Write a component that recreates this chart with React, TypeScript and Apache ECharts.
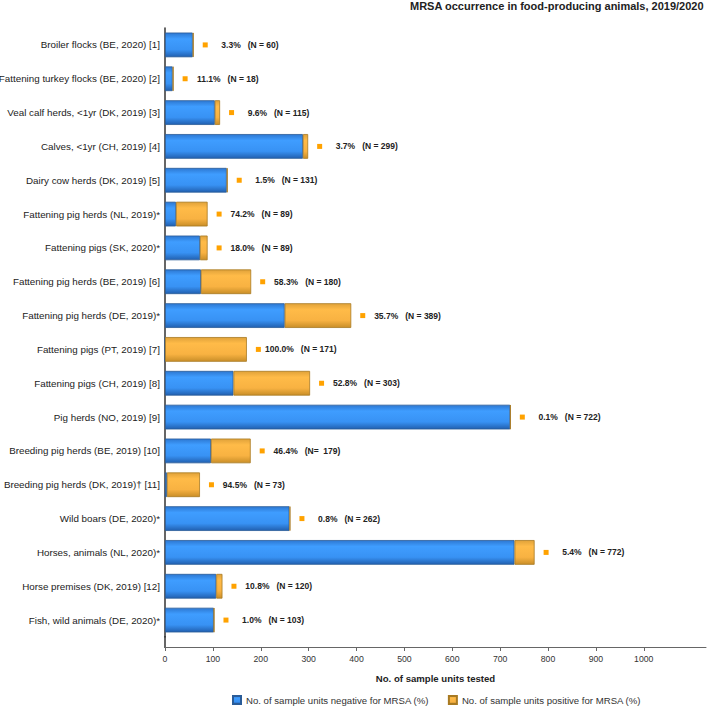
import React, { useEffect, useRef } from "react";
import * as echarts from "echarts";

const categories = [
  "Broiler flocks (BE, 2020) [1]",
  "Fattening turkey flocks (BE, 2020) [2]",
  "Veal calf herds, <1yr (DK, 2019) [3]",
  "Calves, <1yr (CH, 2019) [4]",
  "Dairy cow herds (DK, 2019) [5]",
  "Fattening pig herds (NL, 2019)*",
  "Fattening pigs (SK, 2020)*",
  "Fattening pig herds (BE, 2019) [6]",
  "Fattening pig herds (DE, 2019)*",
  "Fattening pigs (PT, 2019) [7]",
  "Fattening pigs (CH, 2019) [8]",
  "Pig herds (NO, 2019) [9]",
  "Breeding pig herds (BE, 2019) [10]",
  "Breeding pig herds (DK, 2019)\u2020 [11]",
  "Wild boars (DE, 2020)*",
  "Horses, animals (NL, 2020)*",
  "Horse premises (DK, 2019) [12]",
  "Fish, wild animals (DE, 2020)*",
];

const negativeUnits = [58, 16, 104, 288, 129, 23, 73, 75, 250, 0, 143, 721, 96, 4, 260, 730, 107, 102];
const positiveUnits = [2, 2, 11, 11, 2, 66, 16, 105, 139, 171, 160, 1, 83, 69, 2, 42, 13, 1];

const percentLabels = [
  "3.3%", "11.1%", "9.6%", "3.7%", "1.5%", "74.2%", "18.0%", "58.3%", "35.7%",
  "100.0%", "52.8%", "0.1%", "46.4%", "94.5%", "0.8%", "5.4%", "10.8%", "1.0%",
];
const totalLabels = [
  "(N = 60)", "(N = 18)", "(N = 115)", "(N = 299)", "(N = 131)", "(N = 89)", "(N = 89)",
  "(N = 180)", "(N = 389)", "(N = 171)", "(N = 303)", "(N = 722)", "(N=  179)", "(N = 73)",
  "(N = 262)", "(N = 772)", "(N = 120)", "(N = 103)",
];

const xTickValues = [0, 100, 200, 300, 400, 500, 600, 700, 800, 900, 1000];

const FONT = "'Liberation Sans', Arial, Helvetica, sans-serif";

const blueGradient = new echarts.graphic.LinearGradient(0, 0, 0, 1, [
  { offset: 0, color: "#2d78d2" },
  { offset: 0.25, color: "#3f9dff" },
  { offset: 0.7, color: "#3892f4" },
  { offset: 1, color: "#2160b0" },
]);
const orangeGradient = new echarts.graphic.LinearGradient(0, 0, 0, 1, [
  { offset: 0, color: "#e0a23a" },
  { offset: 0.25, color: "#ffbb48" },
  { offset: 0.7, color: "#f8b242" },
  { offset: 1, color: "#c98e28" },
]);

export default function App() {
  const ref = useRef<HTMLDivElement>(null);
  useEffect(() => {
    if (!ref.current) return;
    const chart = echarts.init(ref.current, null, { renderer: "svg" });
    chart.setOption({
      animation: false,
      textStyle: { fontFamily: FONT },
      title: {
        text: "MRSA occurrence in food-producing animals, 2019/2020",
        right: 5,
        top: 0,
        padding: 0,
        textStyle: { fontSize: 11, fontWeight: "bold", color: "#222", fontFamily: FONT },
      },
      grid: { left: 165, right: 3, top: 28, height: 609, outerBoundsMode: "none", containLabel: false },
      legend: {
        left: 232,
        top: 695,
        padding: 0,
        itemWidth: 8,
        itemHeight: 8,
        itemGap: 19,
        icon: "rect",
        textStyle: { fontSize: 9.6, color: "#333", fontFamily: FONT },
        data: [
          "No. of sample units negative for MRSA (%)",
          "No. of sample units positive for MRSA (%)",
        ],
      },
      xAxis: {
        type: "value",
        min: 0,
        max: 1130,
        interval: 100,
        offset: 10,
        splitLine: { show: false },
        axisLine: { show: true, lineStyle: { color: "#666", width: 1 } },
        axisTick: { show: true, length: 4, customValues: xTickValues, lineStyle: { color: "#666" } },
        axisLabel: {
          fontSize: 8.7,
          color: "#333",
          margin: 7,
          customValues: xTickValues,
          fontFamily: FONT,
          formatter: (v: number) => String(v),
        },
        name: "No. of sample units tested",
        nameLocation: "middle",
        nameGap: 26,
        nameTextStyle: { fontSize: 9.6, fontWeight: "bold", color: "#222", fontFamily: FONT },
      },
      yAxis: {
        type: "category",
        inverse: true,
        data: categories,
        axisLine: { show: true, lineStyle: { color: "#333", width: 1.5 } },
        axisTick: { show: false },
        axisLabel: { fontSize: 9.8, color: "#222", margin: 5, fontFamily: FONT },
      },
      graphic: [
        {
          type: "line",
          shape: { x1: 165, y1: 636, x2: 165, y2: 648 },
          style: { stroke: "#333", lineWidth: 1.5 },
          silent: true,
        },
      ],
      series: [
        {
          name: "No. of sample units negative for MRSA (%)",
          type: "bar",
          stack: "total",
          barWidth: "73%",
          data: negativeUnits,
          itemStyle: { color: blueGradient, borderColor: "#2a5c98", borderWidth: 0.8 },
        },
        {
          name: "No. of sample units positive for MRSA (%)",
          type: "bar",
          stack: "total",
          barWidth: "73%",
          data: positiveUnits,
          itemStyle: { color: orangeGradient, borderColor: "#a87a22", borderWidth: 0.8 },
          label: {
            show: true,
            position: "right",
            distance: 9,
            formatter: (p: any) =>
              `{sq|}{p|${percentLabels[p.dataIndex]}}{n|${totalLabels[p.dataIndex]}}`,
            rich: {
              sq: { width: 5, height: 5, backgroundColor: "#ffa200" },
              p: { width: 33, align: "right", fontSize: 8.5, fontWeight: "bold", color: "#222", fontFamily: FONT },
              n: { align: "right", fontSize: 8.5, fontWeight: "bold", color: "#222", padding: [0, 0, 0, 7], fontFamily: FONT },
            },
          },
        },
      ],
    });
    return () => chart.dispose();
  }, []);
  return <div ref={ref} style={{ width: 709, height: 708, position: "absolute", left: 0, top: 0 }} />;
}
